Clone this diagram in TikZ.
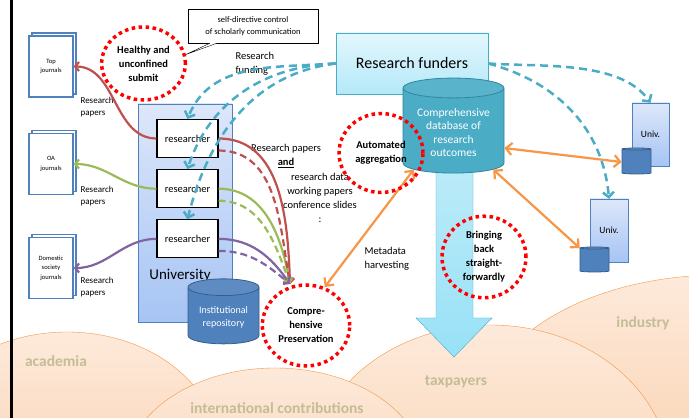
\documentclass[tikz,border=0pt]{standalone}
\usepackage{fontspec}
\setmainfont{Carlito}
\usetikzlibrary{arrows.meta, positioning, shapes.geometric, shadows}

\definecolor{paperred}{HTML}{C0504D}
\definecolor{papergreen}{HTML}{9BBB59}
\definecolor{paperpurple}{HTML}{8064A2}
\definecolor{fundblue}{HTML}{4BACC6}
\definecolor{harvest}{HTML}{F79646}
\definecolor{univline}{HTML}{4F81BD}
\definecolor{drumline}{HTML}{385D8A}
\definecolor{dbline}{HTML}{31859C}
\definecolor{univtop}{HTML}{DDE7FA}
\definecolor{univbottom}{HTML}{A6C4F4}
\definecolor{fundtop}{HTML}{E3F7FD}
\definecolor{fundbottom}{HTML}{B4E9F8}
\definecolor{arrowtop}{HTML}{C8EFFA}
\definecolor{arrowbottom}{HTML}{98E1F6}
\definecolor{cloudtop}{HTML}{FDEADB}
\definecolor{cloudbottom}{HTML}{F9C9A0}
\definecolor{cloudtext}{HTML}{C4BD97}

\tikzset{
	journal/.style = {draw=univline, fill=white, line width=1.2pt, minimum width=44pt, minimum height=61pt,
		align=center, font=\fontsize{6.5}{9.5}\selectfont,
		copy shadow={shadow xshift=3pt, shadow yshift=3pt, draw=univline, fill=white, line width=1.2pt}},
	researcher/.style = {draw, fill=white, line width=1.2pt, minimum width=61pt, minimum height=38pt,
		font=\fontsize{10.5}{12}\selectfont},
	univbox/.style = {draw=univline, top color=univtop, bottom color=univbottom},
	drum/.style = {cylinder, shape border rotate=90, draw=drumline, thick, text=white, align=center,
		cylinder uses custom fill, cylinder body fill=univline, cylinder end fill=univline!92!white},
	ring/.style = {ellipse, draw=red, line width=3.5pt, dash pattern=on 3.5pt off 3.5pt,
		align=center, font=\bfseries\fontsize{10.5}{14}\selectfont},
	cloud/.style = {draw=harvest, thin, top color=cloudtop, bottom color=cloudbottom},
	cloudname/.style = {text=cloudtext, font=\bfseries\fontsize{15.5}{18}\selectfont},
	note/.style = {font=\fontsize{10.5}{14}\selectfont, align=left},
	paper/.style = {-{Straight Barb[length=4pt,width=9pt]}, line width=2.2pt},
	fund/.style = {-{Straight Barb[length=5pt,width=11pt]}, fundblue, line width=2.5pt,
		dash pattern=on 8pt off 5pt},
	link/.style = {{Straight Barb[length=6pt,width=12pt]}-{Straight Barb[length=6pt,width=12pt]},
		harvest, line width=2.2pt},
}

\begin{document}
\begin{tikzpicture}[x=1pt, y=1pt]
	\useasboundingbox (0,0) rectangle (689,418);
	\fill [white] (0,0) rectangle (689,418);
	\clip (0,0) rectangle (689,418);

	% who gets it back
	\draw [cloud] (67,-34) ellipse [x radius=152, y radius=120];
	\draw [cloud] (720,-2) ellipse [x radius=240, y radius=145];
	\draw [cloud] (490,-57) ellipse [x radius=180, y radius=150];
	\draw [cloud] (275,-54) ellipse [x radius=150, y radius=104];
	\node (academia) [cloudname] at (56,57) {academia};
	\node (intl) [cloudname] at (277,10) {international contributions};
	\node (taxpayers) [cloudname] at (456,36) {taxpayers};
	\node (industry) [cloudname] at (643,95) {industry};

	\draw [line width=3pt] (11.5,0) -- (11.5,418);

	% big arrow back down
	\draw [fundblue, top color=arrowtop, bottom color=arrowbottom]
		(436,324) -- (436,100) -- (416,100) -- (454,61) -- (492,100) -- (473,100) -- (473,324) -- cycle;

	\node (funders) [draw=fundblue, top color=fundtop, bottom color=fundbottom, minimum width=152pt,
		minimum height=61pt, font=\fontsize{16}{18}\selectfont] at (412,354.5) {Research funders};
	\node (db) [drum, draw=dbline, cylinder body fill=fundblue, cylinder end fill=fundblue!92!white,
		aspect=0.25, minimum height=95pt, minimum width=101pt,
		font=\fontsize{11.5}{13.5}\selectfont] at (453.5,285.5) {Comprehensive\\database of\\research\\outcomes};

	% university
	\node (univ) [univbox, minimum width=94pt, minimum height=218pt] at (185,205) {};
	\node (univlbl) at (180,142) {\fontsize{15}{18}\selectfont University};
	\node (r1) [researcher] at (187.5,279.5) {researcher};
	\node (r2) [researcher, below=11pt of r1] {researcher};
	\node (r3) [researcher, below=11pt of r2] {researcher};
	\node (ir) [drum, aspect=0.3, minimum height=65pt, minimum width=71pt,
		font=\fontsize{10}{13}\selectfont] at (223.5,100.5) {Institutional\\repository};

	% journals
	\node (top) [journal] at (51,351.5) {Top\\journals};
	\node (oa) [journal] at (51,254) {OA\\journals};
	\node (domestic) [journal] at (51,150) {Domestic\\society\\journals};
	\node (lbltop) [font=\fontsize{9}{11.5}\selectfont, align=left, anchor=west] at (77,311) {Research\\papers};
	\node (lbloa) [font=\fontsize{9}{11.5}\selectfont, align=left, anchor=west] at (77,222) {Research\\papers};
	\node (lbldom) [font=\fontsize{9}{11.5}\selectfont, align=left, anchor=west] at (77,131) {Research\\papers};

	% other universities
	\node (univa) [univbox, minimum width=37pt, minimum height=63pt, font=\fontsize{9.5}{11}\selectfont]
		at (650.5,283.5) {Univ.};
	\node (drema) [drum, aspect=0.3, minimum height=26pt, minimum width=29pt] at (636.5,256) {};
	\node (univb) [univbox, minimum width=38pt, minimum height=63pt, font=\fontsize{9.5}{11}\selectfont]
		at (609,187.5) {Univ.};
	\node (dremb) [drum, aspect=0.3, minimum height=25pt, minimum width=29pt] at (594.5,157.5) {};

	% labels
	\node (fundlbl) [note, anchor=west] at (232,354) {Research\\funding};
	\node (outlbl) [note, align=center] at (286,262) {Research papers\\\textbf{\underline{and}}};
	\node (kindlbl) [note, align=center] at (320,220.5) {research data\\working papers\\conference slides\\:};
	\node (metalbl) [note, anchor=west] at (361,159.5) {Metadata\\harvesting};

	\coordinate (hub) at (290,134);

	\path [paper]
	(r1.west) edge [paperred, out=180, in=0] (top.east)
	(r2.west) edge [papergreen, out=180, in=0] (oa.east)
	(r3.west) edge [paperpurple, out=180, in=0] (domestic.east)
	(r1.east) edge [paperred, out=0, in=92] (hub)
	(r2.east) edge [papergreen, out=0, in=100] (hub)
	(r3.east) edge [paperpurple, out=0, in=125] (hub)
	;
	\path [paper, dash pattern=on 7pt off 4pt]
	([yshift=-12pt]r1.east) edge [paperred, out=0, in=100] (hub)
	([yshift=-12pt]r2.east) edge [papergreen, out=0, in=110] (hub)
	([yshift=-12pt]r3.east) edge [paperpurple, out=0, in=140] (hub)
	;

	\path [fund]
	(funders.west) edge [out=184, in=68] (r1.north)
	(funders.west) edge [out=182, in=72] (r2.north)
	(funders.west) edge [out=187, in=76] (r3.north)
	(funders.east) edge [out=-4, in=125, looseness=0.8] (univa.north)
	(funders.east) edge [out=-15, in=95] (univb.north)
	;

	\node (cp) [ring, minimum width=82pt, minimum height=81pt] at (306,92.5) {Compre-\\hensive\\Preservation};

	\path [link]
	(db.-17) edge (drema.west)
	(db.-43) edge (dremb.140)
	(cp.64) edge (db.223)
	;

	\node (healthy) [ring, minimum width=83pt, minimum height=73pt] at (143.5,354.5) {Healthy and\\unconfined\\submit};
	\node (aggr) [ring, minimum width=84pt, minimum height=79pt] at (381,265) {Automated\\aggregation};
	\node (back) [ring, minimum width=84pt, minimum height=79pt] at (484,161) {Bringing\\back\\straight-\\forwardly};

	\node (control) [draw, fill=white, align=center, minimum width=130pt, minimum height=34pt,
		font=\fontsize{8.5}{12}\selectfont] at (253,392) {self-directive control\\of scholarly communication};
	\draw [fill=white] ([xshift=-43pt]control.south) -- (healthy.12) -- ([xshift=-36pt]control.south);
\end{tikzpicture}
\end{document}
